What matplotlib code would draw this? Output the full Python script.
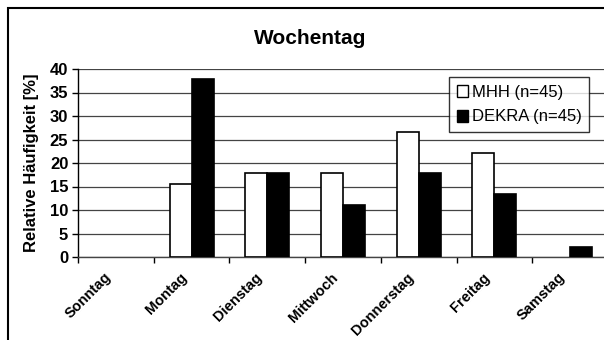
import numpy as np
import matplotlib.pyplot as plt
import matplotlib.transforms as mtransforms
from matplotlib.patches import Rectangle, Patch

plt.rcParams['font.family'] = ['Liberation Sans', 'DejaVu Sans']

tage = ["Sonntag", "Montag", "Dienstag", "Mittwoch", "Donnerstag", "Freitag", "Samstag"]
mhh = [0, 15.6, 17.8, 17.8, 26.7, 22.2, 0]
dekra = [0, 37.8, 17.8, 11.1, 17.8, 13.3, 2.2]

fig = plt.figure(figsize=(6.04, 3.4), dpi=100)
# plot area runs slightly past the right edge of the figure
ax = fig.add_axes([78/604, 1 - 257/340, 530/604, 188/340])

x = np.arange(len(tage))
w = 0.29
# empty bars get no outline
ec_mhh = ['black' if v > 0 else 'none' for v in mhh]
ec_dekra = ['black' if v > 0 else 'none' for v in dekra]
ax.bar(x - w/2, mhh, w, color='white', edgecolor=ec_mhh, linewidth=1.2, zorder=3)
ax.bar(x + w/2, dekra, w, color='black', edgecolor=ec_dekra, linewidth=1.2, zorder=3)

ax.set_xlim(-0.5, len(tage) - 0.5)
ax.set_ylim(0, 40)
ax.set_yticks(np.arange(0, 41, 5))
ax.yaxis.grid(True, color='#444444', linewidth=0.9, zorder=0)
ax.set_axisbelow(True)

for s in ['top', 'right']:
    ax.spines[s].set_visible(False)
ax.spines['left'].set_linewidth(1.0)
ax.spines['bottom'].set_linewidth(1.0)
ax.spines['bottom'].set_color('#444444')

ax.set_xticks(x)
ax.set_xticks(np.arange(-0.5, len(tage)), minor=True)
ax.tick_params(axis='x', which='major', length=0, pad=13)
ax.tick_params(axis='x', which='minor', length=4, direction='out', width=1)
ax.tick_params(axis='y', length=4, direction='out', width=1, pad=3)
ax.set_xticklabels(tage, rotation=45, ha='right', va='center', rotation_mode='anchor',
                   fontsize=10.5, fontweight='bold')
# nudge the slanted day names a bit to the left
shift = mtransforms.ScaledTranslation(-7/100, 0, fig.dpi_scale_trans)
for lbl in ax.get_xticklabels():
    lbl.set_transform(lbl.get_transform() + shift)
for lbl in ax.get_yticklabels():
    lbl.set_fontsize(12)
    lbl.set_fontweight('bold')

ax.set_ylabel('Relative Häufigkeit [%]', fontsize=12, fontweight='bold', labelpad=8)
fig.text(310/604, 1 - 38/340, 'Wochentag', ha='center', va='center', fontsize=15, fontweight='bold')

handles = [Patch(facecolor='white', edgecolor='black', linewidth=1),
           Patch(facecolor='black', edgecolor='black', linewidth=1)]
leg = ax.legend(handles, ['MHH (n=45)', 'DEKRA (n=45)'], loc='upper left',
                bbox_to_anchor=(371/530, 1 - 8/188), fontsize=12, frameon=True,
                fancybox=False, edgecolor='black', handlelength=0.7, handleheight=0.7,
                handletextpad=0.2, borderpad=0.45, labelspacing=0.6, borderaxespad=0)
leg.get_frame().set_linewidth(1.0)
leg.set_zorder(5)

# outer chart frame, cut off at the right and bottom
fig.patches.append(Rectangle((8/604, -0.1), 1.2, 1 - 8/340 + 0.1, transform=fig.transFigure,
                             fill=False, edgecolor='black', linewidth=1.5))

fig.savefig('out.png', dpi=100)
